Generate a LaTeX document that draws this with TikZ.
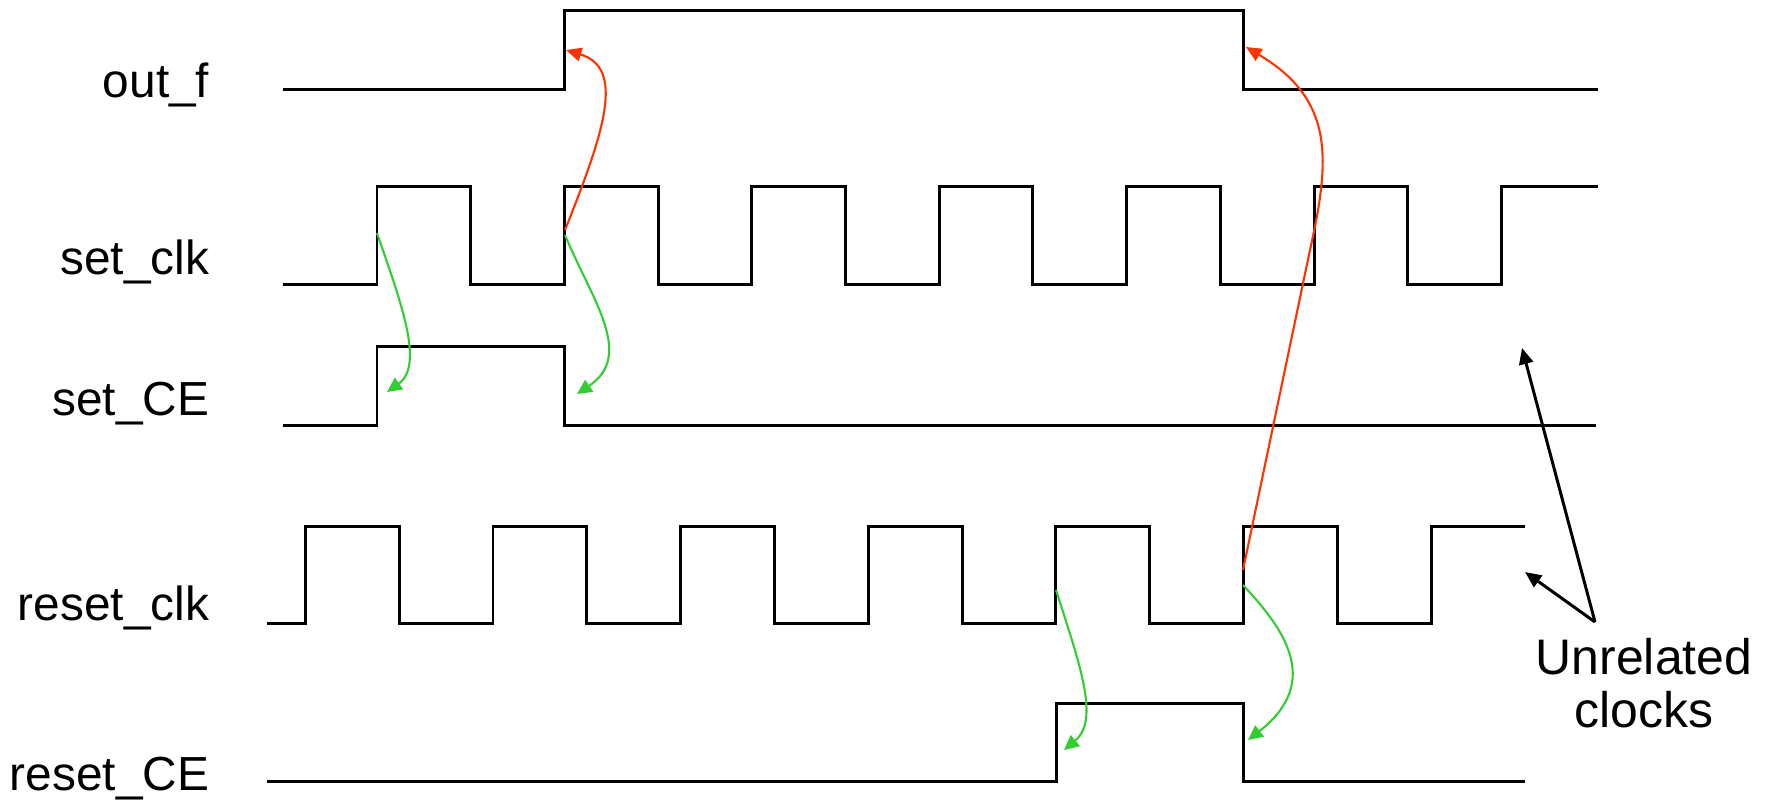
\documentclass[tikz,border=0pt]{standalone}
\usepackage{fontspec}
\setmainfont{Liberation Sans}
\usepackage[svgnames]{xcolor}
\usetikzlibrary{positioning, arrows.meta, calc}

\definecolor{setred}{RGB}{255,51,0}
\definecolor{cegreen}{RGB}{51,204,51}

\tikzset{
    wave/.style={black, line width=0.85pt, line join=miter},
    signame/.style={anchor=base east, inner sep=0pt, font=\fontsize{13.6}{16}\selectfont},
    greenarrow/.style={cegreen, line width=0.6pt, -{Triangle[length=4.2pt, width=4pt]}},
    redarrow/.style={setred, line width=0.6pt, -{Triangle[length=4.4pt, width=3.9pt]}},
    notearrow/.style={black, line width=0.85pt, -{Triangle[length=4.6pt, width=4pt]}}
}

\begin{document}
\begin{tikzpicture}[x=0.01cm, y=-0.01cm]
    \useasboundingbox (0,0) rectangle (1766,802);

    \def\shp{93.7}
    \def\rhp{93.8}

    % signal names
    \node[signame] (outf)   at (210,97)  {out\_f};
    \node[signame] (setclk) at (210,274) {set\_clk};
    \node[signame] (setce)  at (210,415) {set\_CE};
    \node[signame] (rstclk) at (210,620) {reset\_clk};
    \node[signame] (rstce)  at (210,790) {reset\_CE};

    % out_f
    \draw[wave] (283,89) -- (564,89) -- (564,10) -- (1243,10) -- (1243,89) -- (1598,89);

    % set_clk
    \draw[wave] (283,284)
        \foreach \i in {0,...,5}
        {
            -- ({377+2*\shp*\i},284) -- ({377+2*\shp*\i},186)
            -- ({377+(2*\i+1)*\shp},186) -- ({377+(2*\i+1)*\shp},284)
        }
        -- (1501,284) -- (1501,186) -- (1598,186);

    % set_CE
    \draw[wave] (283,425) -- (377,425) -- (377,346) -- (564,346) -- (564,425) -- (1596,425);

    % reset_clk
    \draw[wave] (267,623)
        \foreach \i in {0,...,5}
        {
            -- ({305.4+2*\rhp*\i},623) -- ({305.4+2*\rhp*\i},526)
            -- ({305.4+(2*\i+1)*\rhp},526) -- ({305.4+(2*\i+1)*\rhp},623)
        }
        -- (1431,623) -- (1431,526) -- (1525,526);

    % reset_CE
    \draw[wave] (267,781) -- (1056,781) -- (1056,703) -- (1243,703) -- (1243,781) -- (1525,781);

    % edge points
    \coordinate (sc1)   at (377,233);
    \coordinate (sc2)   at (565,235);
    \coordinate (sc2r)  at (565,230);
    \coordinate (sce1)  at (387,392);
    \coordinate (sce2)  at (577,394);
    \coordinate (rc1)   at (1056,590);
    \coordinate (rc2)   at (1243,585);
    \coordinate (rc2r)  at (1243,570);
    \coordinate (rbend) at (1310,250);
    \coordinate (rce1)  at (1064,750);
    \coordinate (rce2)  at (1248,740);
    \coordinate (of1)   at (566,50);
    \coordinate (of2)   at (1246,47);

    % clock enables
    \draw[greenarrow] (sc1) .. controls (400,300) and (425,365) .. (sce1);
    \draw[greenarrow] (sc2) .. controls (592,300) and (635,355) .. (sce2);
    \draw[greenarrow] (rc1) .. controls (1080,665) and (1100,720) .. (rce1);
    \draw[greenarrow] (rc2) .. controls (1280,625) and (1325,680) .. (rce2);

    % out_f changes
    \draw[redarrow] (sc2r) .. controls (605,130) and (625,68) .. (of1);
    \draw[redarrow] (rc2r) -- (rbend) .. controls (1330,160) and (1335,100) .. (of2);

    % note
    \node[font=\fontsize{14.2}{15.1}\selectfont, align=center, inner sep=0pt] (note) at (1644,683) {Unrelated\\clocks};
    \coordinate (notetail) at (1595,622);
    \coordinate (tipset)   at (1522,348);
    \coordinate (tiprst)   at (1525,572);
    \draw[notearrow] (notetail) -- (tipset);
    \draw[notearrow] (notetail) -- (tiprst);
\end{tikzpicture}
\end{document}
